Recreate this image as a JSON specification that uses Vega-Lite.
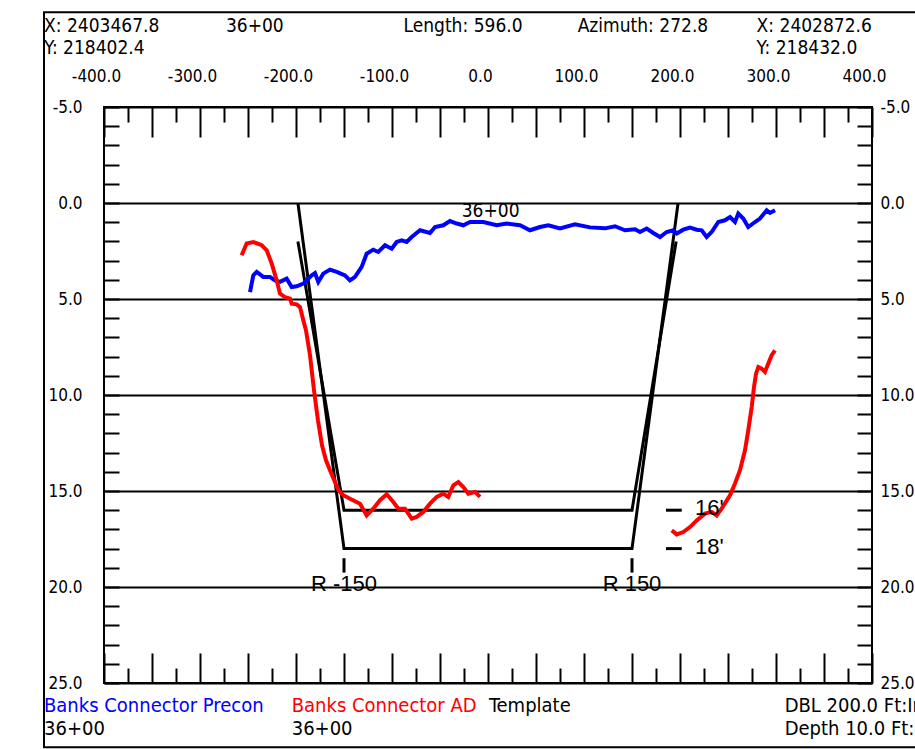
{
  "$schema": "https://vega.github.io/schema/vega-lite/v6.json",
  "width": 768,
  "height": 576,
  "autosize": {"type": "none"},
  "padding": {"left": 104, "top": 107, "right": 43, "bottom": 66},
  "background": "white",
  "config": {"view": {"stroke": "#000", "strokeWidth": 2}},
  "datasets": {
    "frame": [{"part": "outer", "x": -462.5, "x2": 520, "d": -9.93, "d2": 28.35}],
    "template": [
      {"t": "18ft", "o": 1, "x": -198, "d": 0},
      {"t": "18ft", "o": 2, "x": -150, "d": 18},
      {"t": "18ft", "o": 3, "x": 150, "d": 18},
      {"t": "18ft", "o": 4, "x": 198, "d": 0},
      {"t": "16ft", "o": 1, "x": -198, "d": 2},
      {"t": "16ft", "o": 2, "x": -150, "d": 16},
      {"t": "16ft", "o": 3, "x": 150, "d": 16},
      {"t": "16ft", "o": 4, "x": 196, "d": 2}
    ],
    "marks": [
      {"x": 185.4, "x2": 201.8, "d": 16, "d2": 16},
      {"x": 185.4, "x2": 201.8, "d": 18, "d2": 18},
      {"x": -150, "x2": -150, "d": 18.5, "d2": 19.25},
      {"x": 150, "x2": 150, "d": 18.5, "d2": 19.25}
    ],
    "profile": [
      {"s": "Precon", "g": "P1", "x": -247.9, "d": 4.64},
      {"s": "Precon", "g": "P1", "x": -244.5, "d": 3.77},
      {"s": "Precon", "g": "P1", "x": -240.9, "d": 3.59},
      {"s": "Precon", "g": "P1", "x": -234.1, "d": 3.85},
      {"s": "Precon", "g": "P1", "x": -227.1, "d": 3.85},
      {"s": "Precon", "g": "P1", "x": -221.9, "d": 4.03},
      {"s": "Precon", "g": "P1", "x": -216.7, "d": 4.11},
      {"s": "Precon", "g": "P1", "x": -209.7, "d": 3.94},
      {"s": "Precon", "g": "P1", "x": -204.5, "d": 4.38},
      {"s": "Precon", "g": "P1", "x": -199.3, "d": 4.34},
      {"s": "Precon", "g": "P1", "x": -192.4, "d": 4.2},
      {"s": "Precon", "g": "P1", "x": -183.6, "d": 3.77},
      {"s": "Precon", "g": "P1", "x": -180.2, "d": 3.65},
      {"s": "Precon", "g": "P1", "x": -176.8, "d": 4.11},
      {"s": "Precon", "g": "P1", "x": -171.6, "d": 3.68},
      {"s": "Precon", "g": "P1", "x": -164.6, "d": 3.47},
      {"s": "Precon", "g": "P1", "x": -157.6, "d": 3.59},
      {"s": "Precon", "g": "P1", "x": -149.0, "d": 3.77},
      {"s": "Precon", "g": "P1", "x": -143.75, "d": 4.03},
      {"s": "Precon", "g": "P1", "x": -138.5, "d": 3.85},
      {"s": "Precon", "g": "P1", "x": -131.6, "d": 3.33},
      {"s": "Precon", "g": "P1", "x": -126.4, "d": 2.64},
      {"s": "Precon", "g": "P1", "x": -119.5, "d": 2.43},
      {"s": "Precon", "g": "P1", "x": -114.3, "d": 2.55},
      {"s": "Precon", "g": "P1", "x": -107.3, "d": 2.2},
      {"s": "Precon", "g": "P1", "x": -100.3, "d": 2.38},
      {"s": "Precon", "g": "P1", "x": -95.1, "d": 2.03},
      {"s": "Precon", "g": "P1", "x": -89.9, "d": 1.94},
      {"s": "Precon", "g": "P1", "x": -84.7, "d": 2.03},
      {"s": "Precon", "g": "P1", "x": -79.5, "d": 1.77},
      {"s": "Precon", "g": "P1", "x": -70.8, "d": 1.42},
      {"s": "Precon", "g": "P1", "x": -60.4, "d": 1.56},
      {"s": "Precon", "g": "P1", "x": -55.2, "d": 1.25},
      {"s": "Precon", "g": "P1", "x": -46.6, "d": 1.16},
      {"s": "Precon", "g": "P1", "x": -39.6, "d": 0.94},
      {"s": "Precon", "g": "P1", "x": -32.6, "d": 1.07},
      {"s": "Precon", "g": "P1", "x": -25.7, "d": 1.16},
      {"s": "Precon", "g": "P1", "x": -18.75, "d": 0.99},
      {"s": "Precon", "g": "P1", "x": -4.9, "d": 0.99},
      {"s": "Precon", "g": "P1", "x": 9.1, "d": 1.16},
      {"s": "Precon", "g": "P1", "x": 19.5, "d": 1.07},
      {"s": "Precon", "g": "P1", "x": 33.3, "d": 1.16},
      {"s": "Precon", "g": "P1", "x": 43.75, "d": 1.42},
      {"s": "Precon", "g": "P1", "x": 54.2, "d": 1.25},
      {"s": "Precon", "g": "P1", "x": 62.8, "d": 1.16},
      {"s": "Precon", "g": "P1", "x": 75.0, "d": 1.32},
      {"s": "Precon", "g": "P1", "x": 90.6, "d": 1.11},
      {"s": "Precon", "g": "P1", "x": 106.25, "d": 1.27},
      {"s": "Precon", "g": "P1", "x": 121.9, "d": 1.32},
      {"s": "Precon", "g": "P1", "x": 132.3, "d": 1.21},
      {"s": "Precon", "g": "P1", "x": 142.7, "d": 1.42},
      {"s": "Precon", "g": "P1", "x": 153.1, "d": 1.37},
      {"s": "Precon", "g": "P1", "x": 158.3, "d": 1.51},
      {"s": "Precon", "g": "P1", "x": 165.3, "d": 1.33},
      {"s": "Precon", "g": "P1", "x": 172.2, "d": 1.56},
      {"s": "Precon", "g": "P1", "x": 179.2, "d": 1.77},
      {"s": "Precon", "g": "P1", "x": 186.1, "d": 1.51},
      {"s": "Precon", "g": "P1", "x": 193.0, "d": 1.42},
      {"s": "Precon", "g": "P1", "x": 196.6, "d": 1.59},
      {"s": "Precon", "g": "P1", "x": 203.4, "d": 1.39},
      {"s": "Precon", "g": "P1", "x": 210.4, "d": 1.28},
      {"s": "Precon", "g": "P1", "x": 217.4, "d": 1.39},
      {"s": "Precon", "g": "P1", "x": 222.6, "d": 1.42},
      {"s": "Precon", "g": "P1", "x": 227.8, "d": 1.77},
      {"s": "Precon", "g": "P1", "x": 233.0, "d": 1.51},
      {"s": "Precon", "g": "P1", "x": 239.9, "d": 0.99},
      {"s": "Precon", "g": "P1", "x": 246.9, "d": 0.9},
      {"s": "Precon", "g": "P1", "x": 252.1, "d": 0.73},
      {"s": "Precon", "g": "P1", "x": 257.3, "d": 0.99},
      {"s": "Precon", "g": "P1", "x": 260.7, "d": 0.55},
      {"s": "Precon", "g": "P1", "x": 265.9, "d": 0.81},
      {"s": "Precon", "g": "P1", "x": 271.1, "d": 1.25},
      {"s": "Precon", "g": "P1", "x": 278.1, "d": 0.99},
      {"s": "Precon", "g": "P1", "x": 283.3, "d": 0.81},
      {"s": "Precon", "g": "P1", "x": 290.3, "d": 0.38},
      {"s": "Precon", "g": "P1", "x": 293.75, "d": 0.52},
      {"s": "Precon", "g": "P1", "x": 299.0, "d": 0.38},
      {"s": "AD", "g": "A1", "x": -256.6, "d": 2.72},
      {"s": "AD", "g": "A1", "x": -251.4, "d": 2.11},
      {"s": "AD", "g": "A1", "x": -244.5, "d": 2.03},
      {"s": "AD", "g": "A1", "x": -235.7, "d": 2.2},
      {"s": "AD", "g": "A1", "x": -230.5, "d": 2.46},
      {"s": "AD", "g": "A1", "x": -225.3, "d": 3.16},
      {"s": "AD", "g": "A1", "x": -220.1, "d": 4.03},
      {"s": "AD", "g": "A1", "x": -216.7, "d": 4.72},
      {"s": "AD", "g": "A1", "x": -211.5, "d": 4.9},
      {"s": "AD", "g": "A1", "x": -206.25, "d": 4.98},
      {"s": "AD", "g": "A1", "x": -204.5, "d": 5.24},
      {"s": "AD", "g": "A1", "x": -199.3, "d": 5.28},
      {"s": "AD", "g": "A1", "x": -195.8, "d": 5.42},
      {"s": "AD", "g": "A1", "x": -192.4, "d": 6.11},
      {"s": "AD", "g": "A1", "x": -189.6, "d": 6.63},
      {"s": "AD", "g": "A1", "x": -185.4, "d": 7.93},
      {"s": "AD", "g": "A1", "x": -181.25, "d": 9.76},
      {"s": "AD", "g": "A1", "x": -177.1, "d": 11.32},
      {"s": "AD", "g": "A1", "x": -172.9, "d": 12.62},
      {"s": "AD", "g": "A1", "x": -168.75, "d": 13.4},
      {"s": "AD", "g": "A1", "x": -164.6, "d": 13.92},
      {"s": "AD", "g": "A1", "x": -159.4, "d": 14.53},
      {"s": "AD", "g": "A1", "x": -155.9, "d": 14.96},
      {"s": "AD", "g": "A1", "x": -150.7, "d": 15.22},
      {"s": "AD", "g": "A1", "x": -143.75, "d": 15.4},
      {"s": "AD", "g": "A1", "x": -133.3, "d": 15.66},
      {"s": "AD", "g": "A1", "x": -126.4, "d": 16.27},
      {"s": "AD", "g": "A1", "x": -119.5, "d": 15.92},
      {"s": "AD", "g": "A1", "x": -112.5, "d": 15.48},
      {"s": "AD", "g": "A1", "x": -105.5, "d": 15.17},
      {"s": "AD", "g": "A1", "x": -98.6, "d": 15.57},
      {"s": "AD", "g": "A1", "x": -93.4, "d": 15.92},
      {"s": "AD", "g": "A1", "x": -86.5, "d": 15.92},
      {"s": "AD", "g": "A1", "x": -79.5, "d": 16.44},
      {"s": "AD", "g": "A1", "x": -74.3, "d": 16.35},
      {"s": "AD", "g": "A1", "x": -67.4, "d": 16.09},
      {"s": "AD", "g": "A1", "x": -60.4, "d": 15.66},
      {"s": "AD", "g": "A1", "x": -53.4, "d": 15.31},
      {"s": "AD", "g": "A1", "x": -46.6, "d": 15.14},
      {"s": "AD", "g": "A1", "x": -41.4, "d": 15.31},
      {"s": "AD", "g": "A1", "x": -36.1, "d": 14.7},
      {"s": "AD", "g": "A1", "x": -30.9, "d": 14.53},
      {"s": "AD", "g": "A1", "x": -25.7, "d": 14.79},
      {"s": "AD", "g": "A1", "x": -20.5, "d": 15.14},
      {"s": "AD", "g": "A1", "x": -13.5, "d": 15.05},
      {"s": "AD", "g": "A1", "x": -8.3, "d": 15.31},
      {"s": "AD", "g": "A2", "x": 191.4, "d": 17.05},
      {"s": "AD", "g": "A2", "x": 196.6, "d": 17.26},
      {"s": "AD", "g": "A2", "x": 203.4, "d": 17.14},
      {"s": "AD", "g": "A2", "x": 210.4, "d": 16.88},
      {"s": "AD", "g": "A2", "x": 217.4, "d": 16.53},
      {"s": "AD", "g": "A2", "x": 226.0, "d": 16.18},
      {"s": "AD", "g": "A2", "x": 233.0, "d": 16.09},
      {"s": "AD", "g": "A2", "x": 238.2, "d": 16.27},
      {"s": "AD", "g": "A2", "x": 243.4, "d": 15.92},
      {"s": "AD", "g": "A2", "x": 252.1, "d": 15.22},
      {"s": "AD", "g": "A2", "x": 257.3, "d": 14.61},
      {"s": "AD", "g": "A2", "x": 262.5, "d": 13.92},
      {"s": "AD", "g": "A2", "x": 267.7, "d": 12.88},
      {"s": "AD", "g": "A2", "x": 271.1, "d": 11.84},
      {"s": "AD", "g": "A2", "x": 274.7, "d": 10.63},
      {"s": "AD", "g": "A2", "x": 277.1, "d": 9.58},
      {"s": "AD", "g": "A2", "x": 279.2, "d": 8.89},
      {"s": "AD", "g": "A2", "x": 281.6, "d": 8.54},
      {"s": "AD", "g": "A2", "x": 285.1, "d": 8.63},
      {"s": "AD", "g": "A2", "x": 288.5, "d": 8.8},
      {"s": "AD", "g": "A2", "x": 292.0, "d": 8.36},
      {"s": "AD", "g": "A2", "x": 295.5, "d": 7.93},
      {"s": "AD", "g": "A2", "x": 299.0, "d": 7.67}
    ],
    "header": [
      {"txt": "X: 2403467.8", "x": -462.5, "d": -9.2},
      {"txt": "36+00", "x": -273, "d": -9.2},
      {"txt": "Length: 596.0", "x": -88, "d": -9.2},
      {"txt": "Azimuth: 272.8", "x": 93.4, "d": -9.2},
      {"txt": "X: 2402872.6", "x": 279.8, "d": -9.2},
      {"txt": "Y: 218402.4", "x": -462.5, "d": -8.05},
      {"txt": "Y: 218432.0", "x": 279.8, "d": -8.05},
      {"txt": "36+00", "x": -27.4, "d": 0.43}
    ],
    "legend": [
      {"txt": "Banks Connector Precon", "x": -462.5, "d": 26.2, "grp": "precon"},
      {"txt": "Banks Connector AD", "x": -204.5, "d": 26.2, "grp": "ad"},
      {"txt": "Template", "x": 1, "d": 26.2, "grp": "plain"},
      {"txt": "DBL 200.0 Ft:In", "x": 309, "d": 26.2, "grp": "plain"},
      {"txt": "36+00", "x": -462.5, "d": 27.4, "grp": "plain"},
      {"txt": "36+00", "x": -204.5, "d": 27.4, "grp": "plain"},
      {"txt": "Depth 10.0 Ft:In", "x": 309, "d": 27.4, "grp": "plain"}
    ],
    "rlabels": [
      {"txt": "R -150", "x": -150, "d": 19.85},
      {"txt": "R 150", "x": 150, "d": 19.85}
    ],
    "dlabels": [
      {"txt": "16'", "x": 215.6, "d": 15.9},
      {"txt": "18'", "x": 215.6, "d": 17.9}
    ]
  },
  "resolve": {"axis": {"x": "independent", "y": "independent"}, "scale": {"color": "independent"}},
  "layer": [
    {
      "data": {"name": "frame"},
      "mark": {"type": "rect", "filled": false, "stroke": "#000", "strokeWidth": 2, "clip": false},
      "encoding": {
        "x": {"field": "x", "type": "quantitative", "scale": {"domain": [-400, 400], "nice": false, "zero": false}, "axis": null},
        "x2": {"field": "x2"},
        "y": {"field": "d", "type": "quantitative", "scale": {"domain": [-5, 25], "reverse": true, "nice": false, "zero": false}, "axis": null},
        "y2": {"field": "d2"}
      }
    },
    {
      "data": {"name": "template"},
      "mark": {"type": "line", "stroke": "#000", "strokeWidth": 3, "strokeJoin": "miter"},
      "encoding": {
        "x": {"field": "x", "type": "quantitative", "scale": {"domain": [-400, 400], "nice": false, "zero": false},
          "axis": {"orient": "bottom", "title": null, "domain": false, "grid": false, "labels": false,
            "values": [-400,-375,-350,-325,-300,-275,-250,-225,-200,-175,-150,-125,-100,-75,-50,-25,0,25,50,75,100,125,150,175,200,225,250,275,300,325,350,375,400],
            "tickColor": "#000", "tickWidth": 2,
            "tickSize": {"condition": {"test": "datum.value % 50 === 0", "value": -30}, "value": -15}}},
        "y": {"field": "d", "type": "quantitative", "scale": {"domain": [-5, 25], "reverse": true, "nice": false, "zero": false},
          "axis": {"orient": "left", "title": null, "domain": false,
            "values": [-5,-4,-3,-2,-1,0,1,2,3,4,5,6,7,8,9,10,11,12,13,14,15,16,17,18,19,20,21,22,23,24,25],
            "tickColor": "#000", "tickWidth": 2, "tickSize": -15,
            "grid": true, "gridColor": "#000", "gridWidth": 2,
            "gridOpacity": {"condition": {"test": "datum.value % 5 === 0", "value": 1}, "value": 0},
            "labelExpr": "datum.value % 5 === 0 ? replace(format(datum.value, '.1f'), '\u2212', '-') : ''",
            "labelPadding": 37, "labelFont": "DejaVu Sans Condensed, Liberation Sans", "labelFontSize": 17, "labelColor": "#000",
            "labelFlush": false, "labelOverlap": false, "labelBound": false}},
        "detail": {"field": "t"},
        "order": {"field": "o"}
      }
    },
    {
      "data": {"name": "profile"},
      "mark": {"type": "line", "strokeWidth": 4},
      "encoding": {
        "x": {"field": "x", "type": "quantitative", "scale": {"domain": [-400, 400], "nice": false, "zero": false},
          "axis": {"orient": "top", "title": null, "domain": false, "grid": false,
            "values": [-400,-375,-350,-325,-300,-275,-250,-225,-200,-175,-150,-125,-100,-75,-50,-25,0,25,50,75,100,125,150,175,200,225,250,275,300,325,350,375,400],
            "tickColor": "#000", "tickWidth": 2,
            "tickSize": {"condition": {"test": "datum.value % 50 === 0", "value": -30}, "value": -15},
            "labelExpr": "datum.value % 100 === 0 ? replace(format(datum.value, '.1f'), '\u2212', '-') : ''",
            "labelPadding": 61, "labelBaseline": "middle", "labelOffset": -8,
            "labelFont": "DejaVu Sans Condensed, Liberation Sans", "labelFontSize": 17, "labelColor": "#000",
            "labelFlush": false, "labelOverlap": false, "labelBound": false}},
        "y": {"field": "d", "type": "quantitative", "scale": {"domain": [-5, 25], "reverse": true, "nice": false, "zero": false},
          "axis": {"orient": "right", "title": null, "domain": false, "grid": false,
            "values": [-5,-4,-3,-2,-1,0,1,2,3,4,5,6,7,8,9,10,11,12,13,14,15,16,17,18,19,20,21,22,23,24,25],
            "tickColor": "#000", "tickWidth": 2, "tickSize": -15,
            "labelExpr": "datum.value % 5 === 0 ? replace(format(datum.value, '.1f'), '\u2212', '-') : ''",
            "labelPadding": 23, "labelFont": "DejaVu Sans Condensed, Liberation Sans", "labelFontSize": 17, "labelColor": "#000",
            "labelFlush": false, "labelOverlap": false, "labelBound": false}},
        "color": {"field": "s", "type": "nominal", "scale": {"domain": ["Precon", "AD"], "range": ["#0000ff", "#ff0000"]}, "legend": null},
        "detail": {"field": "g"}
      }
    },
    {
      "data": {"name": "marks"},
      "mark": {"type": "rule", "stroke": "#000", "strokeWidth": 3},
      "encoding": {
        "x": {"field": "x", "type": "quantitative", "axis": null},
        "x2": {"field": "x2"},
        "y": {"field": "d", "type": "quantitative", "axis": null},
        "y2": {"field": "d2"}
      }
    },
    {
      "data": {"name": "header"},
      "mark": {"type": "text", "align": "left", "baseline": "middle", "font": "DejaVu Sans Condensed, Liberation Sans", "fontSize": 19, "color": "#000"},
      "encoding": {
        "x": {"field": "x", "type": "quantitative", "axis": null},
        "y": {"field": "d", "type": "quantitative", "axis": null},
        "text": {"field": "txt"}
      }
    },
    {
      "data": {"name": "legend"},
      "mark": {"type": "text", "align": "left", "baseline": "middle", "font": "DejaVu Sans Condensed, Liberation Sans", "fontSize": 20},
      "encoding": {
        "x": {"field": "x", "type": "quantitative", "axis": null},
        "y": {"field": "d", "type": "quantitative", "axis": null},
        "text": {"field": "txt"},
        "color": {"field": "grp", "type": "nominal", "scale": {"domain": ["plain", "precon", "ad"], "range": ["#000000", "#0000ff", "#ff0000"]}, "legend": null}
      }
    },
    {
      "data": {"name": "rlabels"},
      "mark": {"type": "text", "align": "center", "baseline": "middle", "font": "Liberation Sans", "fontSize": 22, "color": "#000"},
      "encoding": {
        "x": {"field": "x", "type": "quantitative", "axis": null},
        "y": {"field": "d", "type": "quantitative", "axis": null},
        "text": {"field": "txt"}
      }
    },
    {
      "data": {"name": "dlabels"},
      "mark": {"type": "text", "align": "left", "baseline": "middle", "font": "Liberation Sans", "fontSize": 22, "color": "#000"},
      "encoding": {
        "x": {"field": "x", "type": "quantitative", "axis": null},
        "y": {"field": "d", "type": "quantitative", "axis": null},
        "text": {"field": "txt"}
      }
    }
  ]
}
